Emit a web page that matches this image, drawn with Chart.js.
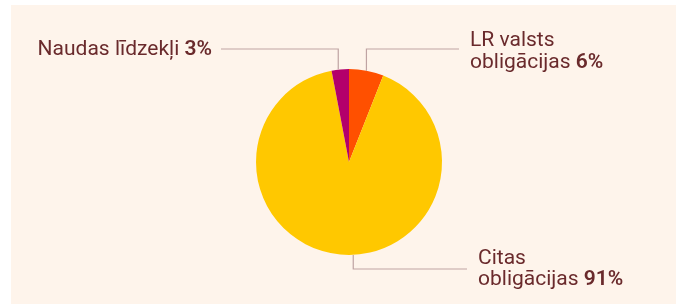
<!DOCTYPE html>
<html lang="lv">
<head>
  <meta charset="UTF-8">
  <title>Naudas līdzekļi un obligācijas</title>
  <script src="https://cdn.jsdelivr.net/npm/chart.js"></script>
  <style>
    html, body {
      margin: 0;
      padding: 0;
      background: #ffffff;
    }
    .wrap {
      position: relative;
      width: 678px;
      height: 304px;
    }
  </style>
</head>
<body>
  <div class="wrap">
    <canvas id="pieChart" width="678" height="304"></canvas>
  </div>
  <script>
    // data
    const categories = [['LR valsts', 'obligācijas'], ['Citas', 'obligācijas'], ['Naudas līdzekļi']];
    const shares = [6, 91, 3];
    const sliceColors = ['#FF5000', '#FFC800', '#B3006B'];

    const textColor = '#6A2A2C';
    const lineColor = '#BFA3A3';
    const fontFamily = 'Roboto, "Noto Sans", sans-serif';
    const fontSize = 21;

    // where each callout goes (canvas px)
    const callouts = [
      { elbowY: 49, endX: 459, textX: 470, side: 'right', firstBase: -3, lineGap: 22, dx: 0 },
      { elbowY: 269, endX: 467, textX: 478, side: 'right', firstBase: -5, lineGap: 21, dx: 13 },
      { elbowY: 49, endX: 221, textX: 212, side: 'left', firstBase: 6, lineGap: 22, dx: -2 }
    ];

    // light panel behind the chart
    const panelBg = {
      id: 'panelBg',
      beforeDraw(chart) {
        const ctx = chart.ctx;
        ctx.save();
        ctx.fillStyle = '#FEF4EB';
        ctx.fillRect(11, 5, 665, 299);
        ctx.restore();
      }
    };

    function drawRich(ctx, parts, x, y, align) {
      let total = 0;
      parts.forEach(p => {
        ctx.font = (p.bold ? '600 ' : '400 ') + fontSize + 'px ' + fontFamily;
        p.w = ctx.measureText(p.text).width;
        total += p.w;
      });
      let cx = align === 'right' ? x - total : x;
      parts.forEach(p => {
        ctx.font = (p.bold ? '600 ' : '400 ') + fontSize + 'px ' + fontFamily;
        ctx.fillText(p.text, cx, y);
        cx += p.w;
      });
    }

    // leader lines + labels
    const calloutPlugin = {
      id: 'callouts',
      afterDatasetsDraw(chart) {
        const ctx = chart.ctx;
        const arcs = chart.getDatasetMeta(0).data;
        ctx.save();
        arcs.forEach((arc, i) => {
          const c = callouts[i];
          const { x: cx, y: cy, outerRadius: r, startAngle, endAngle } = arc.getProps(['x', 'y', 'outerRadius', 'startAngle', 'endAngle'], true);
          const mid = (startAngle + endAngle) / 2;
          const px = cx + Math.cos(mid) * r + c.dx;
          const up = c.elbowY < cy;
          const dxc = px - cx;
          const py = cy + (up ? -1 : 1) * Math.sqrt(Math.max(r * r - dxc * dxc, 0));

          ctx.strokeStyle = lineColor;
          ctx.lineWidth = 1.2;
          ctx.beginPath();
          ctx.moveTo(px, py);
          ctx.lineTo(px, c.elbowY);
          ctx.lineTo(c.endX, c.elbowY);
          ctx.stroke();

          ctx.fillStyle = textColor;
          ctx.textBaseline = 'alphabetic';
          const lines = categories[i];
          lines.forEach((txt, j) => {
            const y = c.elbowY + c.firstBase + j * c.lineGap;
            const parts = [{ text: txt, bold: false }];
            if (j === lines.length - 1) {
              parts[0].text = txt + ' ';
              parts.push({ text: shares[i] + '%', bold: true });
            }
            drawRich(ctx, parts, c.textX, y, c.side === 'left' ? 'right' : 'left');
          });
        });
        ctx.restore();
      }
    };

    new Chart(document.getElementById('pieChart'), {
      type: 'pie',
      data: {
        labels: categories.map(l => l.join(' ')),
        datasets: [{
          data: shares,
          backgroundColor: sliceColors,
          borderWidth: 0
        }]
      },
      options: {
        responsive: false,
        animation: false,
        layout: {
          padding: { top: 69, bottom: 49, left: 256, right: 236 }
        },
        plugins: {
          legend: { display: false },
          tooltip: { enabled: false }
        }
      },
      plugins: [panelBg, calloutPlugin]
    });
  </script>
</body>
</html>
